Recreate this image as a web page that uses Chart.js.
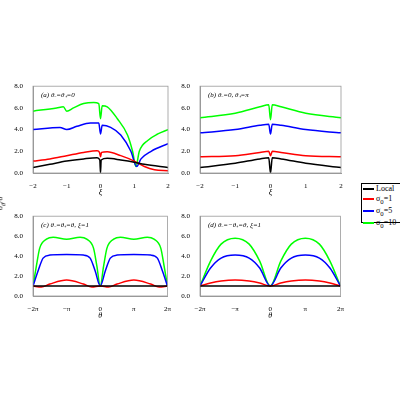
<!DOCTYPE html>
<html><head><meta charset="utf-8">
<script src="https://cdn.jsdelivr.net/npm/chart.js@4/dist/chart.umd.min.js"></script>
<style>
body{margin:0;background:#fff;font-family:"Liberation Serif",serif;}
#wrap{position:relative;width:400px;height:400px;}
canvas{position:absolute;}
#ylab{position:absolute;left:-6px;top:198px;transform:rotate(-90deg);font-size:8px;font-style:italic;}
#legend{position:absolute;left:361px;top:183px;width:37px;height:38px;border:1px solid #000;font-size:8px;line-height:9.5px;padding-left:1px;}
#legend span{display:inline-block;width:11px;height:2px;vertical-align:middle;margin-right:2px;}
</style></head>
<body><div id="wrap">
<canvas id="ca" style="left:0;top:80px" width="172" height="118"></canvas>
<canvas id="cb" style="left:167px;top:80px" width="178" height="118"></canvas>
<canvas id="cc" style="left:0;top:210px" width="172" height="111"></canvas>
<canvas id="cd" style="left:167px;top:210px" width="178" height="111"></canvas>
<div id="ylab">σ<sub>θ</sub>/σ</div>
<div id="legend">
<div><span style="background:#000"></span>Local</div>
<div><span style="background:#f00"></span>σ<sub>0</sub>=1</div>
<div><span style="background:#00f"></span>σ<sub>0</sub>=5</div>
<div><span style="background:#0f0"></span>σ<sub>0</sub>=10</div>
</div>
</div>
<script>
const colors = ['#000000', '#ff0000', '#0000ff', '#00ff00'];

// panel (a)
const aBlackX = [-2, -1.5, -1, -0.5, -0.1, -0.02, 0, 0.02, 0.2, 0.6, 1, 1.3, 2];
const aBlackY = [0.5, 0.8, 1.1, 1.3, 1.4, 1.2, 0, 1.2, 1.35, 1.2, 1.0, 0.8, 0.5];
const aRedX = [-2, -1.5, -1, -0.5, -0.1, -0.03, 0, 0.03, 0.2, 0.6, 1, 1.3, 1.6, 2];
const aRedY = [1.1, 1.3, 1.6, 1.9, 2.05, 1.9, 1.5, 1.9, 1.95, 1.6, 1.1, 0.6, 0.3, 0.2];
const aBlueX = [-2, -1.2, -1, -0.7, -0.3, -0.05, 0, 0.05, 0.3, 0.6, 0.9, 1.07, 1.2, 1.5, 2];
const aBlueY = [4.0, 4.2, 4.0, 4.3, 4.6, 4.6, 3.6, 4.4, 4.2, 3.5, 2.0, 0.6, 1.3, 2.0, 2.7];
const aGreenX = [-2, -1.3, -1.1, -1, -0.8, -0.5, -0.2, -0.05, 0, 0.05, 0.2, 0.5, 0.8, 0.95, 1.05, 1.15, 1.4, 1.7, 2];
const aGreenY = [5.7, 6.0, 6.1, 5.7, 6.0, 6.4, 6.5, 6.4, 5.0, 6.2, 6.1, 5.0, 3.5, 2.0, 0.6, 2.0, 3.0, 3.6, 4.0];

// panel (b)
const bX = [-2, -1, -0.3, -0.05, 0, 0.05, 0.3, 1, 2];
const bBlackY = [0.5, 0.9, 1.3, 1.4, 0, 1.4, 1.3, 0.9, 0.5];
const bRedY = [1.5, 1.6, 1.9, 2.0, 1.6, 2.0, 1.9, 1.6, 1.5];
const bBlueY = [3.7, 4.0, 4.4, 4.5, 3.6, 4.5, 4.4, 4.0, 3.7];
const bGreenY = [5.1, 5.5, 6.1, 6.3, 4.9, 6.3, 6.1, 5.5, 5.1];

// panel (c), x in units of pi
const cX = [-2, -1.9, -1.8, -1.6, -1.4, -1, -0.6, -0.4, -0.2, -0.1, 0, 0.1, 0.2, 0.4, 0.6, 1, 1.4, 1.6, 1.8, 1.9, 2];
const cBlackY = [1, 1, 1, 1, 1, 1, 1, 1, 1, 1, 1, 1, 1, 1, 1, 1, 1, 1, 1, 1, 1];
const cGreenY = [1, 3, 4.8, 5.7, 5.9, 5.7, 5.9, 5.7, 4.8, 3, 1, 3, 4.8, 5.7, 5.9, 5.7, 5.9, 5.7, 4.8, 3, 1];
const cBlueX = [-2, -1.85, -1.7, -1.5, -1, -0.5, -0.3, -0.15, 0, 0.15, 0.3, 0.5, 1, 1.5, 1.7, 1.85, 2];
const cBlueY = [1, 2.5, 3.8, 4.1, 4.15, 4.1, 3.8, 2.5, 1, 2.5, 3.8, 4.1, 4.15, 4.1, 3.8, 2.5, 1];
const cRedX = [-2, -1.75, -1.5, -1, -0.5, -0.25, 0, 0.25, 0.5, 1, 1.5, 1.75, 2];
const cRedY = [1, 0.9, 1.2, 1.6, 1.2, 0.9, 1, 0.9, 1.2, 1.6, 1.2, 0.9, 1];

// panel (d)
const dX = [-2, -1.7, -1.4, -1, -0.6, -0.3, 0, 0.3, 0.6, 1, 1.4, 1.7, 2];
const dBlackY = [1, 1, 1, 1, 1, 1, 1, 1, 1, 1, 1, 1, 1];
const dRedY = [1, 1.3, 1.5, 1.6, 1.5, 1.3, 1, 1.3, 1.5, 1.6, 1.5, 1.3, 1];
const dBlueY = [1, 2.8, 3.8, 4.1, 3.8, 2.8, 1, 2.8, 3.8, 4.1, 3.8, 2.8, 1];
const dGreenY = [1, 3.5, 5.2, 5.8, 5.2, 3.5, 1, 3.5, 5.2, 5.8, 5.2, 3.5, 1];

const yTicks = [0, 2, 4, 6, 8];
const xiTicks = [-2, -1, 0, 1, 2];
const piLabels = { '-2': '−2π', '-1': '−π', '0': '0', '1': 'π', '2': '2π' };

const pts = (xs, ys) => xs.map((x, i) => ({ x, y: ys[i] }));

const framePlugin = {
  id: 'frame',
  afterDraw(chart) {
    const { ctx, chartArea: a } = chart;
    ctx.save();
    ctx.strokeStyle = '#999';
    ctx.lineWidth = 0.8;
    ctx.strokeRect(a.left, a.top, a.right - a.left, a.bottom - a.top);
    ctx.fillStyle = '#000';
    ctx.font = 'italic 7px "Liberation Serif"';
    ctx.fillText(chart.options.plugins.panelTitle, a.left + 8, a.top + 11);
    ctx.restore();
  },
};

const makeChart = (id, title, series, xTitle, usePi) => {
  new Chart(document.getElementById(id), {
    type: 'line',
    data: {
      datasets: series.map((s, i) => ({
        data: s,
        borderColor: colors[i],
        borderWidth: 1.5,
        pointRadius: 0,
        cubicInterpolationMode: 'monotone',
      })),
    },
    options: {
      responsive: false,
      animation: false,
      layout: { padding: { top: 5, right: 4 } },
      plugins: { legend: { display: false }, tooltip: { enabled: false }, panelTitle: title },
      scales: {
        x: {
          type: 'linear', min: -2, max: 2,
          afterBuildTicks: (s) => { s.ticks = xiTicks.map((v) => ({ value: v })); },
          afterFit: (s) => { s.height = 25; },
          grid: { display: false },
          border: { color: '#999' },
          ticks: {
            color: '#000', font: { family: 'Liberation Serif', size: 7 }, padding: 1,
            callback: (v) => (usePi ? piLabels[String(v)] : String(v).replace('-', '−')),
          },
          title: { display: true, text: xTitle, color: '#000', padding: 0, font: { family: 'Liberation Serif', size: 8, style: 'italic' } },
        },
        y: {
          min: 0, max: 8,
          afterBuildTicks: (s) => { s.ticks = yTicks.map((v) => ({ value: v })); },
          afterFit: (s) => { s.width = 33; },
          grid: { display: false },
          border: { color: '#999' },
          ticks: { color: '#000', font: { family: 'Liberation Serif', size: 7 }, padding: 2, callback: (v) => v.toFixed(1) },
        },
      },
    },
    plugins: [framePlugin],
  });
};

makeChart('ca', '(a) θ₋=θ₊=0', [pts(aBlackX, aBlackY), pts(aRedX, aRedY), pts(aBlueX, aBlueY), pts(aGreenX, aGreenY)], 'ξ', false);
makeChart('cb', '(b) θ₋=0, θ₊=π', [pts(bX, bBlackY), pts(bX, bRedY), pts(bX, bBlueY), pts(bX, bGreenY)], 'ξ', false);
makeChart('cc', '(c) θ₋=θ₊=θ, ξ=1', [pts(cX, cBlackY), pts(cRedX, cRedY), pts(cBlueX, cBlueY), pts(cX, cGreenY)], 'θ', true);
makeChart('cd', '(d) θ₋=−θ₊=θ, ξ=1', [pts(dX, dBlackY), pts(dX, dRedY), pts(dX, dBlueY), pts(dX, dGreenY)], 'θ', true);
</script>
</body></html>
